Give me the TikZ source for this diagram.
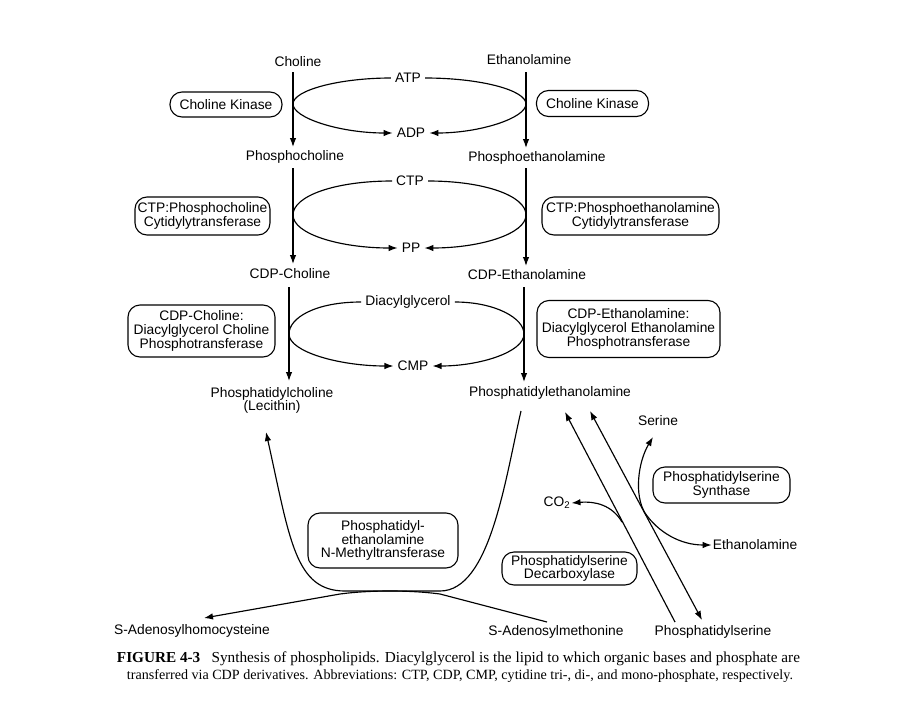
\documentclass[tikz,border=0pt]{standalone}
\usepackage{fontspec}
\setmainfont{Liberation Serif}
\setsansfont{Liberation Sans}
\usetikzlibrary{arrows.meta}
\begin{document}
\begin{tikzpicture}[x=1pt,y=-1pt,
  lab/.style={font=\sffamily\fontsize{13.8}{13.5}\selectfont, inner sep=1pt, align=center},
  mid/.style={font=\sffamily\fontsize{13.8}{13.5}\selectfont, inner sep=4pt},
  enz/.style={draw, line width=1.1pt, rounded corners=12pt, align=center,
    font=\sffamily\fontsize{13.8}{13.8}\selectfont, inner sep=1pt},
  ln/.style={line width=1.15pt},
  arr/.style={ln, -{Latex[length=9pt,width=6.5pt]}},
  darr/.style={ln, {Latex[length=9pt,width=6.5pt]}-{Latex[length=9pt,width=6.5pt]}},
]
\useasboundingbox (0,0) rectangle (902,720);
\fill[white] (0,0) rectangle (902,720);

% ---------- row 1
\node[lab] (cho)  at (298,62)  {Choline};
\node[lab] (eth)  at (529,60)  {Ethanolamine};
\node[lab] (pcho) at (295,157) {Phosphocholine};
\node[lab] (peth) at (537,158) {Phosphoethanolamine};
\node[mid] (atp)  at (408,78)  {ATP};
\node[mid] (adp)  at (411,133) {ADP};
\node[enz, minimum width=112pt, minimum height=25pt] (ck1) at (226,104.5) {Choline Kinase};
\node[enz, minimum width=112pt, minimum height=26pt] (ck2) at (592.5,103.5) {Choline Kinase};
\coordinate (t1l) at (293,104);
\coordinate (t1r) at (526,104);
\draw[arr] (293,72) -- (293,147);
\draw[arr] (526,72) -- (526,148);
\draw[ln] (atp.west) .. controls (340,78) and (293,90) .. (t1l);
\draw[arr] (t1l) .. controls (293,118) and (340,133) .. (adp.west);
\draw[ln] (atp.east) .. controls (480,78) and (526,90) .. (t1r);
\draw[arr] (t1r) .. controls (526,118) and (480,133) .. (adp.east);

% ---------- row 2
\node[lab] (cdpc) at (290,274) {CDP-Choline};
\node[lab] (cdpe) at (527,275) {CDP-Ethanolamine};
\node[mid] (ctp)  at (410,181) {CTP};
\node[mid] (pp)   at (411,248) {PP};
\node[enz, minimum width=135pt, minimum height=38pt] (ct1) at (202.5,216) {CTP:Phosphocholine\\Cytidylytransferase};
\node[enz, minimum width=177pt, minimum height=38pt] (ct2) at (630.5,216) {CTP:Phosphoethanolamine\\Cytidylytransferase};
\coordinate (t2l) at (293,215);
\coordinate (t2r) at (526,215);
\draw[arr] (293,168) -- (293,264);
\draw[arr] (526,168) -- (526,266);
\draw[ln] (ctp.west) .. controls (335,181) and (293,196) .. (t2l);
\draw[arr] (t2l) .. controls (293,234) and (340,248) .. (pp.west);
\draw[ln] (ctp.east) .. controls (485,181) and (526,196) .. (t2r);
\draw[arr] (t2r) .. controls (526,234) and (480,248) .. (pp.east);

% ---------- row 3
\node[lab] (pc)   at (272,400.5) {Phosphatidylcholine\\(Lecithin)};
\node[lab] (pe)   at (550,393) {Phosphatidylethanolamine};
\node[mid] (dag)  at (408,302) {Diacylglycerol};
\node[mid] (cmp)  at (413,366) {CMP};
\node[enz, minimum width=147pt, minimum height=52pt] (pt1) at (201.5,331) {CDP-Choline:\\Diacylglycerol Choline\\Phosphotransferase};
\node[enz, minimum width=183pt, minimum height=57pt] (pt2) at (628.5,329) {CDP-Ethanolamine:\\Diacylglycerol Ethanolamine\\Phosphotransferase};
\coordinate (t3l) at (289,334);
\coordinate (t3r) at (524,334);
\draw[arr] (289,287) -- (289,381);
\draw[arr] (524,287) -- (524,382);
\draw[ln] (dag.west) .. controls (315,302) and (289,318) .. (t3l);
\draw[arr] (t3l) .. controls (289,352) and (340,366) .. (cmp.west);
\draw[ln] (dag.east) .. controls (495,302) and (524,318) .. (t3r);
\draw[arr] (t3r) .. controls (524,352) and (480,366) .. (cmp.east);

% ---------- bottom
\node[lab] (sahc) at (192,631) {S-Adenosylhomocysteine};
\node[lab] (sam)  at (556,632) {S-Adenosylmethonine};
\node[lab] (ps)   at (713,632) {Phosphatidylserine};
\node[lab] (ser)  at (658,421) {Serine};
\node[lab] (eth2) at (755,545) {Ethanolamine};
\node[lab] (co2)  at (557,503) {CO\textsubscript{2}};
\node[enz, minimum width=150pt, minimum height=55pt] (pemt) at (383,540.5) {Phosphatidyl-\\ethanolamine\\N-Methyltransferase};
\node[enz, minimum width=137pt, minimum height=36pt] (pss)  at (721.5,485) {Phosphatidylserine\\Synthase};
\node[enz, minimum width=135pt, minimum height=33pt] (psd)  at (569.5,568.5) {Phosphatidylserine\\Decarboxylase};

\coordinate (ub) at (521,411);
\coordinate (ul) at (266,432);
\draw[arr] (ub) .. controls (505,480) and (490,591) .. (440,591) -- (345,591)
  .. controls (295,591) and (290,540) .. (ul);
\coordinate (sa1) at (547,622);
\coordinate (sa2) at (204,618);
\draw[arr] (sa1) -- (440,594) .. controls (410,590) and (370,590) .. (340,594) -- (sa2);

\coordinate (la1) at (675,622);
\coordinate (la2) at (565,412);
\coordinate (lb1) at (590,411);
\coordinate (lb2) at (702,620);
\draw[arr] (la1) -- (la2);
\draw[darr] (lb1) -- (lb2);
\draw[darr] (653,437) .. controls (638,462) and (634,495) .. (645,513)
  .. controls (658,532) and (680,545) .. (eth2.west);
\draw[arr] (622,522) .. controls (612,505) and (595,501) .. (co2.east);

% ---------- caption
\node[anchor=base, font=\fontsize{13.5}{15}\selectfont, inner sep=0pt] (cap1) at (458.5,662)
  {\resizebox{683pt}{!}{\textbf{FIGURE 4-3}\hspace{10pt}Synthesis of phospholipids. Diacylglycerol is the lipid to which organic bases and phosphate are}};
\node[anchor=base, font=\fontsize{13.5}{15}\selectfont, inner sep=0pt] (cap2) at (460,679)
  {\resizebox{666pt}{!}{transferred via CDP derivatives. Abbreviations: CTP, CDP, CMP, cytidine tri-, di-, and mono-phosphate, respectively.}};
\end{tikzpicture}
\end{document}
